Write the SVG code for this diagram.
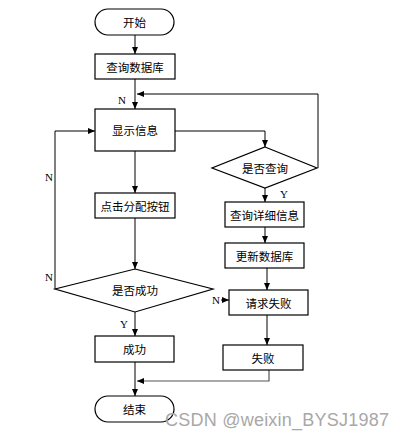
<svg xmlns="http://www.w3.org/2000/svg" width="405" height="439" viewBox="0 0 405 439">
<defs>
<marker id="ah" markerWidth="8" markerHeight="8" refX="7" refY="4" orient="auto" markerUnits="userSpaceOnUse">
<path d="M0,1 L7,4 L0,7 Z" fill="#000"/>
</marker>
</defs>
<style>
.box{fill:#fff;stroke:#000;stroke-width:1.2}
.t{font-family:"Noto Sans CJK SC","Noto Sans CJK JP",sans-serif;font-size:11.5px;fill:#000;text-anchor:middle;dominant-baseline:central}
.lbl{font-family:"Liberation Serif",serif;font-size:11px;fill:#000}
.c{fill:none;stroke:#000;stroke-width:1}
.g{fill:none;stroke:#555;stroke-width:1.2}
</style>
<rect width="405" height="439" fill="#fff"/>
<g id="connectors">
<path class="c" d="M135,35 V54" marker-end="url(#ah)"/>
<path class="c" d="M135,79 V109" marker-end="url(#ah)"/>
<path class="c" d="M318,168 V94 H137" marker-end="url(#ah)"/>
<path class="c" d="M175,131 H265 V147" marker-end="url(#ah)"/>
<path class="c" d="M265,188 V202" marker-end="url(#ah)"/>
<path class="c" d="M265,227 V243" marker-end="url(#ah)"/>
<path class="c" d="M267,268 V290" marker-end="url(#ah)"/>
<path class="c" d="M267,315 V345" marker-end="url(#ah)"/>
<path class="g" d="M269,370 V381 H137" marker-end="url(#ah)"/>
<path class="c" d="M135,151 V193" marker-end="url(#ah)"/>
<path class="c" d="M135,218 V269" marker-end="url(#ah)"/>
<path class="c" d="M55,289 V131 H95" marker-end="url(#ah)"/>
<path class="c" d="M221,300 H229" marker-end="url(#ah)"/>
<path class="c" d="M135,312 V336" marker-end="url(#ah)"/>
<path class="c" d="M135,362 V396" marker-end="url(#ah)"/>
<text class="lbl" x="118" y="104">N</text>
<text class="lbl" x="280" y="198">Y</text>
<text class="lbl" x="45" y="181">N</text>
<text class="lbl" x="45" y="281">N</text>
<text class="lbl" x="212" y="304">N</text>
<text class="lbl" x="120" y="328">Y</text>
</g>
<g id="start"><rect class="box" x="95" y="9" width="79" height="26" rx="13"/><text class="t" x="134.5" y="22">开始</text></g>
<g id="querydb"><rect class="box" x="95" y="54" width="80" height="25"/><text class="t" x="135" y="66.5">查询数据库</text></g>
<g id="show"><rect class="box" x="95" y="109" width="80" height="42"/><text class="t" x="135" y="130">显示信息</text></g>
<g id="isquery"><polygon class="box" points="265,147 317,168 265,188 212,168"/><text class="t" x="265" y="168">是否查询</text></g>
<g id="detail"><rect class="box" x="225" y="202" width="79" height="25"/><text class="t" x="264.5" y="214.5">查询详细信息</text></g>
<g id="update"><rect class="box" x="225" y="243" width="79" height="25"/><text class="t" x="264.5" y="255.5">更新数据库</text></g>
<g id="click"><rect class="box" x="95" y="193" width="80" height="25"/><text class="t" x="135" y="205.5">点击分配按钮</text></g>
<g id="issuccess"><polygon class="box" points="135,269 213,289 135,312 55,289"/><text class="t" x="135" y="290">是否成功</text></g>
<g id="reqfail"><rect class="box" x="229" y="290" width="79" height="25"/><text class="t" x="268.5" y="302.5">请求失败</text></g>
<g id="fail"><rect class="box" x="223" y="345" width="80" height="25"/><text class="t" x="263" y="357.5">失败</text></g>
<g id="success"><rect class="box" x="95" y="336" width="79" height="26"/><text class="t" x="134.5" y="349">成功</text></g>
<g id="end"><rect class="box" x="95" y="396" width="79" height="26" rx="13"/><text class="t" x="134.5" y="409">结束</text></g>
<text x="165" y="425.5" font-family="Liberation Sans, Arial, sans-serif" font-size="18" fill="#a8a8a8" textLength="224">CSDN @weixin_BYSJ1987</text>
</svg>
